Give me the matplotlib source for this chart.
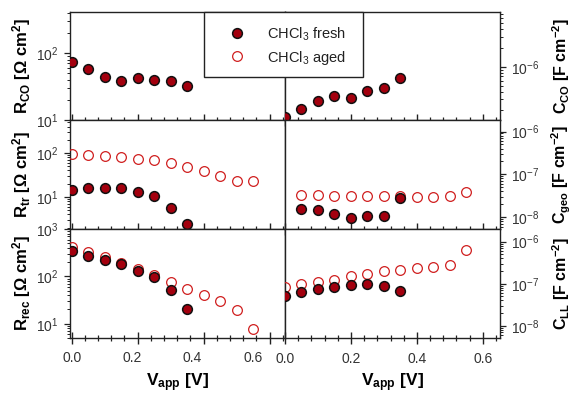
import matplotlib
matplotlib.use('Agg')
import matplotlib.pyplot as plt
import matplotlib.transforms as mtransforms
from matplotlib.ticker import MultipleLocator, LogLocator, NullFormatter
from matplotlib.patches import Rectangle
from matplotlib.lines import Line2D

plt.rcParams['font.family'] = ['Liberation Sans', 'DejaVu Sans']
plt.rcParams['mathtext.fontset'] = 'custom'
plt.rcParams['mathtext.rm'] = 'Liberation Sans'
plt.rcParams['mathtext.bf'] = 'Liberation Sans:bold'
plt.rcParams['mathtext.it'] = 'Liberation Sans:italic'
plt.rcParams['mathtext.default'] = 'regular'

# applied voltage (V)
v_fresh = [0.0, 0.05, 0.10, 0.15, 0.20, 0.25, 0.30, 0.35]
v_aged = [0.0, 0.05, 0.10, 0.15, 0.20, 0.25, 0.30, 0.35, 0.40, 0.45, 0.50, 0.55]
v_geo_fresh = [0.05, 0.10, 0.15, 0.20, 0.25, 0.30, 0.35]
v_geo_aged = [0.05, 0.10, 0.15, 0.20, 0.25, 0.30, 0.35, 0.40, 0.45, 0.50, 0.55]
v_ticks = [0.0, 0.2, 0.4, 0.6]

# left column: resistances (Ohm cm2)
rco_fresh = [74, 58, 44, 38.6, 42.4, 39.5, 38.6, 31.8]
rtr_fresh = [14.6, 16.3, 16.3, 16.0, 12.8, 10.7, 5.6, 2.4]
rtr_aged = [93, 90, 87, 81, 73, 69, 60, 49, 39, 29.5, 23.4, 23.4]
rrec_fresh = [344, 274, 222, 179, 132, 98.6, 50.6, 20.7]
rrec_aged = [410, 328, 252, 190, 140, 105, 75, 55, 41, 29.6, 19.1, 7.6]

# right column: capacitances (F cm-2)
cco_fresh = [1.56e-7, 2.08e-7, 2.83e-7, 3.4e-7, 3.2e-7, 4.16e-7, 4.58e-7, 6.58e-7]
cgeo_fresh = [1.54e-8, 1.48e-8, 1.16e-8, 0.96e-8, 1.05e-8, 1.04e-8, 2.73e-8]
cgeo_aged = [3.27e-8, 3.27e-8, 3.15e-8, 3.15e-8, 3.1e-8, 3.1e-8, 3.1e-8,
             2.98e-8, 2.98e-8, 3.05e-8, 3.9e-8]
cll_fresh = [5.07e-8, 6.2e-8, 7.3e-8, 8.3e-8, 9.5e-8, 9.8e-8, 8.8e-8, 6.7e-8]
cll_aged = [8.3e-8, 9.8e-8, 1.09e-7, 1.24e-7, 1.49e-7, 1.73e-7, 2.0e-7, 2.11e-7,
            2.35e-7, 2.44e-7, 2.77e-7, 6.45e-7]

fresh_style = dict(linestyle='none', marker='o', markersize=7.0, markerfacecolor='#a3000e',
                   markeredgecolor='#111111', markeredgewidth=1.1, zorder=4)
aged_style = dict(linestyle='none', marker='o', markersize=7.0, markerfacecolor='none',
                  markeredgecolor='#d01f1f', markeredgewidth=0.9, zorder=3)

W, H = 573, 397
fig = plt.figure(figsize=(W / 100, H / 100), dpi=100)


def make_ax(x0, x1, y0, y1):
    return fig.add_axes([x0 / W, 1 - y1 / H, (x1 - x0) / W, (y1 - y0) / H])


rows = [(12, 120), (120, 229), (229, 338)]
left_axes = [make_ax(70, 285, a, b) for a, b in rows]
right_axes = [make_ax(285, 500, a, b) for a, b in rows]


def style(ax, side, bottom_row):
    ax.set_yscale('log')
    for sp in ax.spines.values():
        sp.set_linewidth(1.0)
        sp.set_color('#222222')
    ax.xaxis.set_major_locator(MultipleLocator(0.2))
    ax.xaxis.set_minor_locator(MultipleLocator(0.04))
    ax.tick_params(axis='x', which='both', direction='inout', top=False, bottom=True,
                   labelbottom=(bottom_row and side == 'right'), labelsize=10, pad=6,
                   color='#222222', labelcolor='#333333')
    ax.tick_params(axis='x', which='major', length=8, width=1.0)
    ax.tick_params(axis='x', which='minor', length=5, width=0.9)
    ax.tick_params(axis='y', which='both', direction='out', left=(side == 'left'),
                   right=(side == 'right'), labelleft=(side == 'left'),
                   labelright=(side == 'right'), labelsize=10, pad=4, color='#222222',
                   labelcolor='#333333')
    ax.tick_params(axis='y', which='major', length=4, width=0.9)
    ax.tick_params(axis='y', which='minor', length=2.5, width=0.7)
    ax.yaxis.set_minor_locator(LogLocator(subs=range(2, 10), numticks=20))
    ax.yaxis.set_minor_formatter(NullFormatter())
    if bottom_row:
        ax.set_xlabel(r'$\mathbf{V_{app}\ [V]}$', fontsize=12.5)
        ax.xaxis.set_label_coords(0.5, -0.31)


for i, ax in enumerate(left_axes):
    style(ax, 'left', i == 2)
    ax.set_xlim(-0.005, 0.647)
for i, ax in enumerate(right_axes):
    style(ax, 'right', i == 2)
    ax.set_xlim(0.0, 0.652)

ax = left_axes[0]
ax.plot(v_fresh, rco_fresh, **fresh_style)
ax.set_ylim(10, 410)

ax = right_axes[0]
ax.plot(v_fresh, cco_fresh, **fresh_style)
ax.set_ylim(1.4e-7, 7.6e-6)

ax = left_axes[1]
ax.plot(v_aged, rtr_aged, **aged_style)
ax.plot(v_fresh, rtr_fresh, **fresh_style)
ax.set_ylim(10 ** 0.27, 10 ** 2.75)

ax = right_axes[1]
ax.plot(v_geo_aged, cgeo_aged, **aged_style)
ax.plot(v_geo_fresh, cgeo_fresh, **fresh_style)
ax.set_ylim(10 ** -8.28, 10 ** -5.73)

ax = left_axes[2]
ax.plot(v_aged, rrec_aged, **aged_style)
ax.plot(v_fresh, rrec_fresh, **fresh_style)
ax.set_ylim(5, 1000)

ax = right_axes[2]
ax.plot(v_aged, cll_aged, **aged_style)
ax.plot(v_fresh, cll_fresh, **fresh_style)
ax.set_ylim(10 ** -8.29, 10 ** -5.70)

# in the original the left tick labels drift a little left of their ticks
ax = left_axes[2]
base = mtransforms.blended_transform_factory(ax.transData, ax.transAxes)
for v in v_ticks:
    off = mtransforms.ScaledTranslation(-27.8 * v / 100.0, -0.205, fig.dpi_scale_trans)
    ax.text(v, 0, f'{v:.1f}', transform=base + off, ha='center', va='center',
            fontsize=10, color='#333333', clip_on=False)

for ax in left_axes + right_axes:
    for t in ax.get_xticklabels() + ax.get_yticklabels():
        t.set_clip_on(False)

# axis titles
left_labels = [r'$\mathbf{R_{CO}\ [\Omega\ cm^{2}]}$',
               r'$\mathbf{R_{tr}\ [\Omega\ cm^{2}]}$',
               r'$\mathbf{R_{rec}\ [\Omega\ cm^{2}]}$']
right_labels = [r'$\mathbf{C_{CO}\ [F\ cm^{-2}]}$',
                r'$\mathbf{C_{geo}\ [F\ cm^{-2}]}$',
                r'$\mathbf{C_{LL}\ [F\ cm^{-2}]}$']
for (a, b), lab in zip(rows, left_labels):
    fig.text(22 / W, 1 - (a + b) / 2 / H, lab, rotation=90, ha='center', va='center',
             fontsize=12)
for (a, b), lab in zip(rows, right_labels):
    fig.text(561 / W, 1 - (a + b) / 2 / H, lab, rotation=90, ha='center', va='center',
             fontsize=11.5)

# legend box
box = Rectangle((204 / W, 1 - 77 / H), 159 / W, 65 / H, transform=fig.transFigure,
                facecolor='white', edgecolor='#222222', linewidth=1.0, zorder=10)
fig.patches.append(box)
handles = [Line2D([], [], **fresh_style), Line2D([], [], **aged_style)]
leg = fig.legend(handles, ['CHCl$_3$ fresh', 'CHCl$_3$ aged'], loc='upper left',
                 bbox_to_anchor=(222 / W, 1 - 18 / H), frameon=False, fontsize=10.5,
                 borderpad=0.5, borderaxespad=0, handlelength=1.0, handletextpad=1.6,
                 labelspacing=0.4, labelcolor='#222222')
leg.set_zorder(11)

fig.savefig('out.png', dpi=100)
